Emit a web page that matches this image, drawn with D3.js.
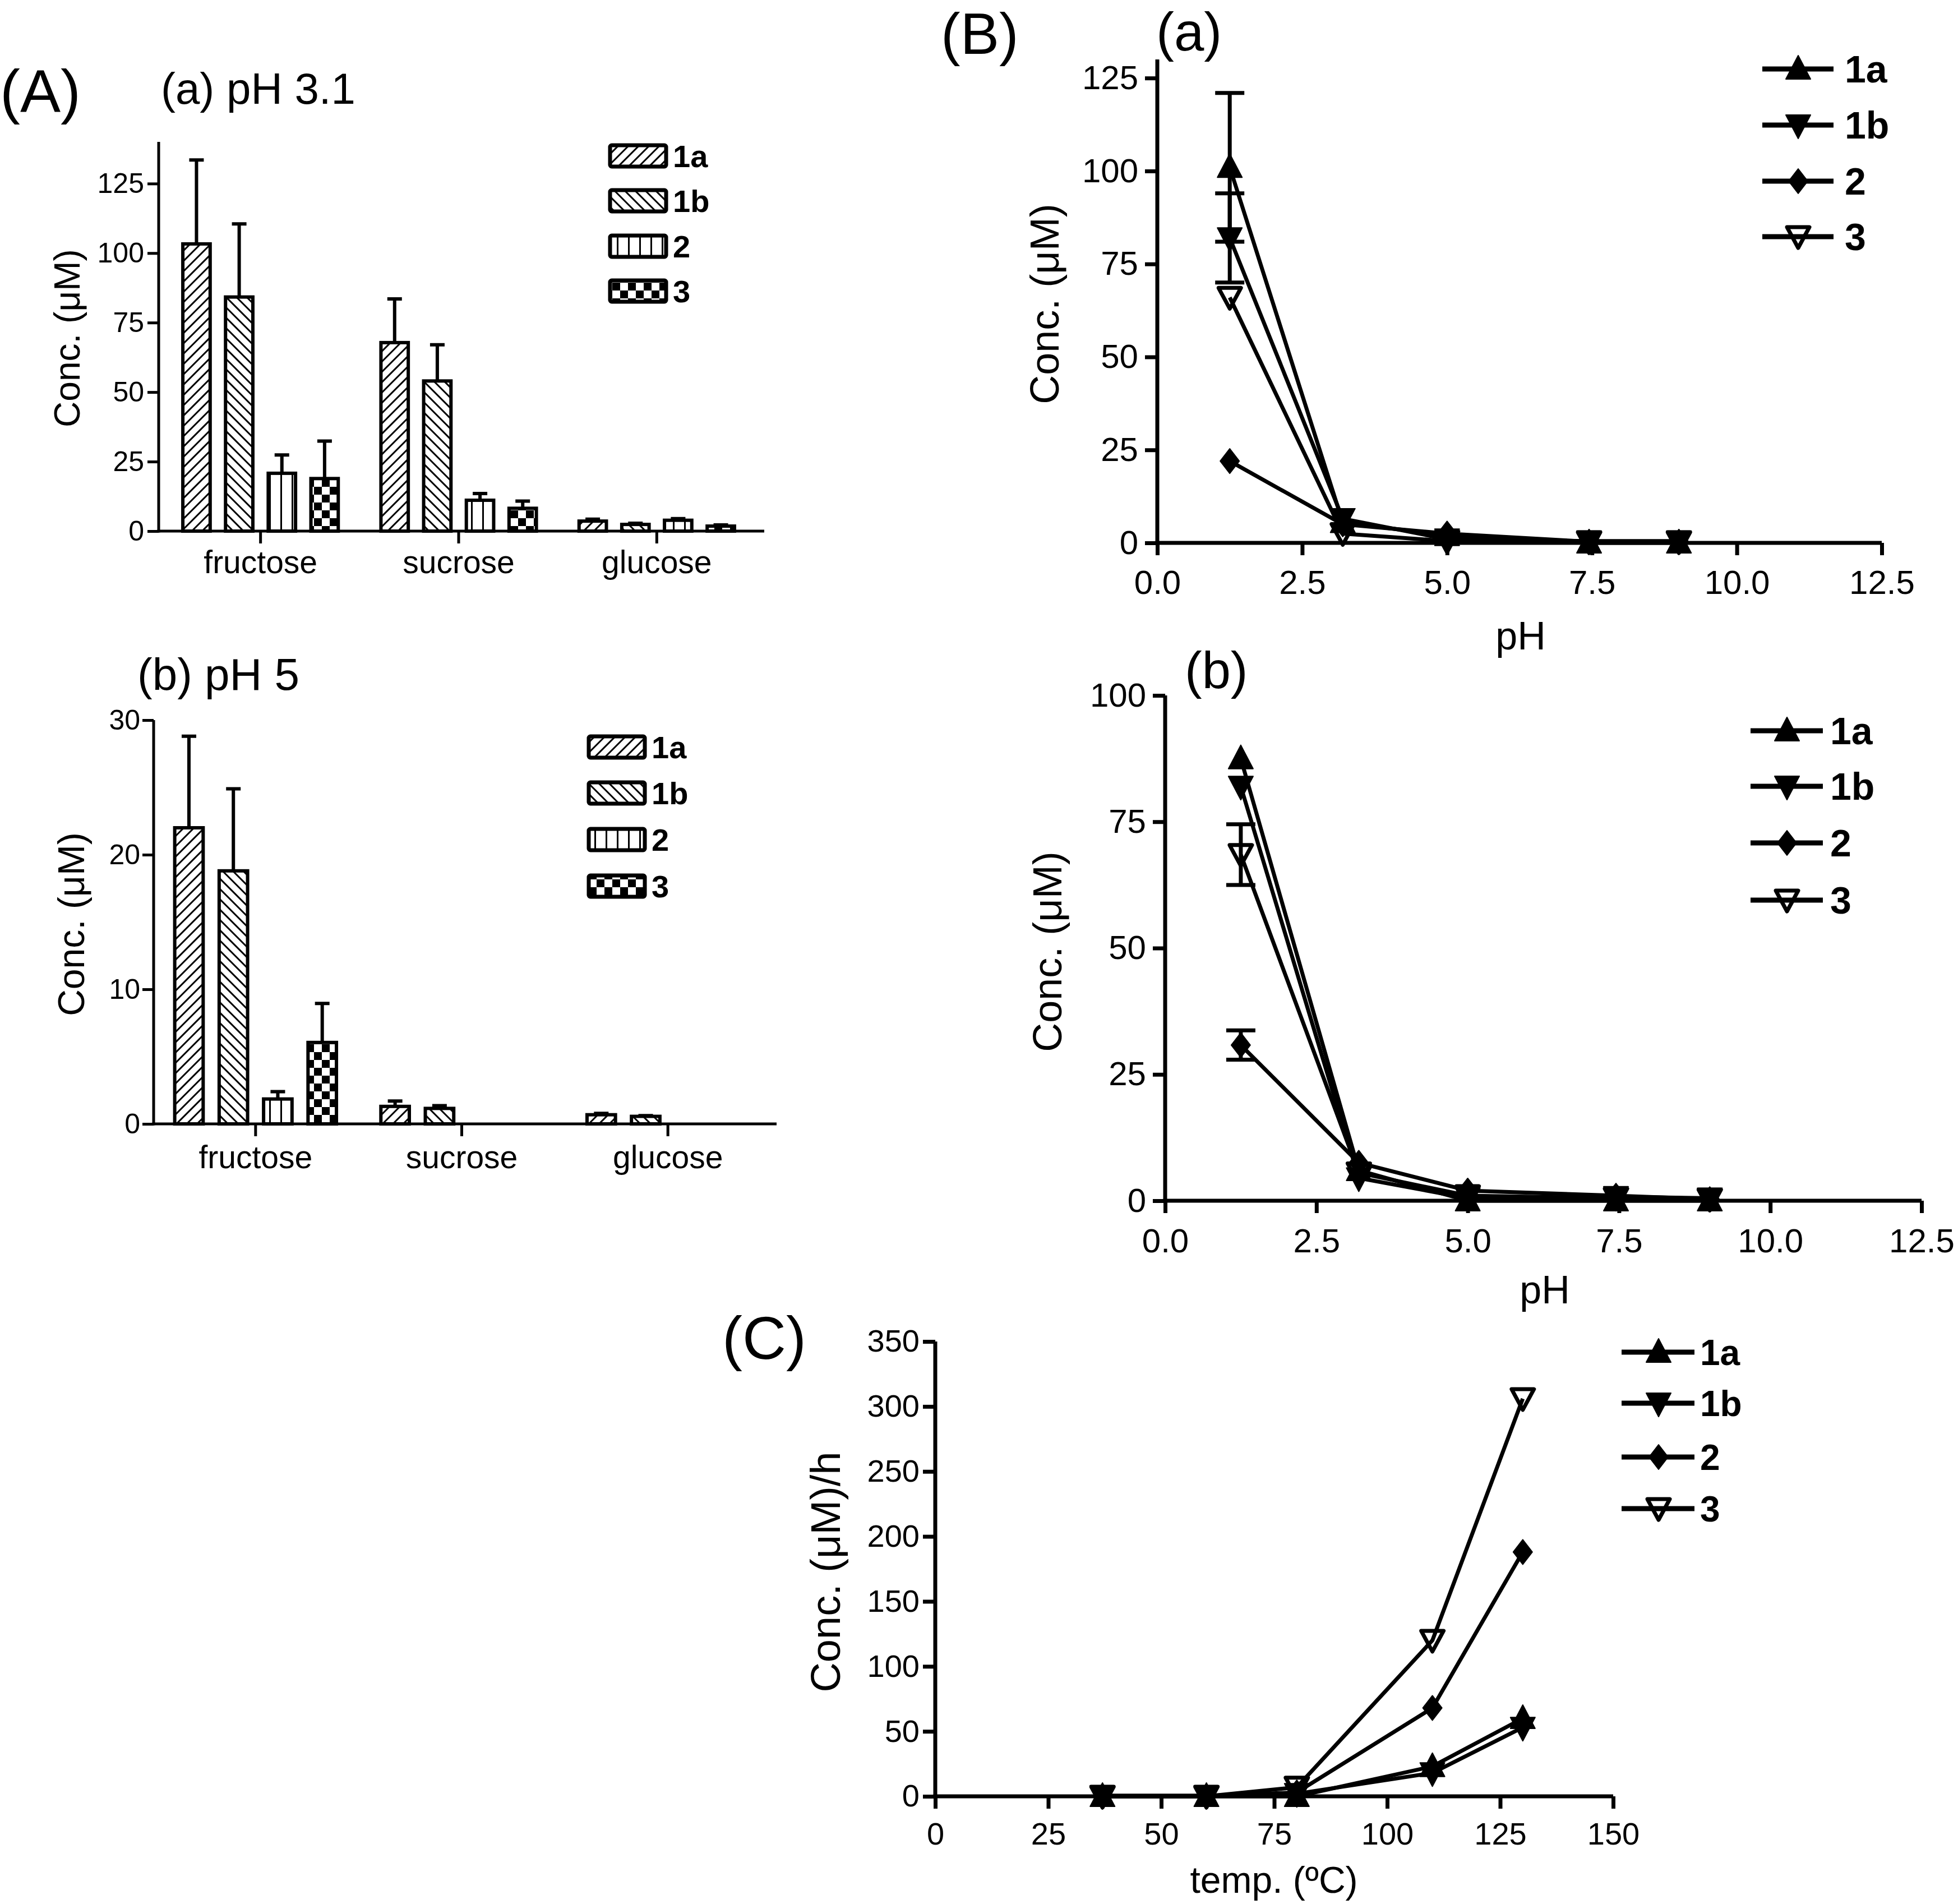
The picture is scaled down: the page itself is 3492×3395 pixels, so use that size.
<!DOCTYPE html>
<html lang="en">
<head>
<meta charset="utf-8">
<title>Figure</title>
<script src="https://cdn.jsdelivr.net/npm/d3@7"></script>
<style>
  body { margin: 0; background: #fff; }
  text { font-family: "Liberation Sans", Arial, Helvetica, sans-serif; fill: #000; }
</style>
</head>
<body>
<script>
// ---------- data ----------
var compounds = ["1a", "1b", "2", "3"];
var sugars = ["fructose", "sucrose", "glucose"];

// (A)(a) pH 3.1 : rows = sugar, columns = compound
var pH31Mean = [[103.3, 84.2, 20.8, 18.9], [67.8, 54.0, 11.1, 8.2], [3.6, 2.4, 3.9, 1.8]];
var pH31Err  = [[30.2, 26.3, 6.6, 13.5], [15.7, 13.0, 2.4, 2.6], [0.7, 0.4, 0.6, 0.4]];
// (A)(b) pH 5
var pH5Mean = [[22.0, 18.8, 1.85, 6.05], [1.3, 1.15, 0, 0], [0.68, 0.56, 0, 0]];
var pH5Err  = [[6.8, 6.1, 0.55, 2.9], [0.4, 0.2, 0, 0], [0.1, 0.05, 0, 0]];

// (B) conc. vs pH
var pHValues = [1.25, 3.2, 5.0, 7.45, 9.0];
var pHa1a = [101, 5.5, 2.0, 0.0, 0.0];
var pHa1b = [82, 6.5, 1.0, 0.5, 0.5];
var pHa2  = [22, 5.0, 2.5, 0.3, 0.3];
var pHa3  = [66, 2.5, 0.5, 0.3, 0.3];
var pHaErr1a = [20, 0, 0, 0, 0];
var pHaErr1b = [12, 0, 0, 0, 0];
var pHaErr2  = [0, 0, 0, 0, 0];
var pHaErr3  = [0, 0, 0, 0, 0];

var pHb1a = [87.5, 6.0, 0.0, 0.0, 0.0];
var pHb1b = [82, 4.5, 0.5, 0.8, 0.5];
var pHb2  = [30.8, 7.5, 2.0, 1.0, 0.3];
var pHb3  = [68.5, 5.5, 1.0, 0.5, 0.3];
var pHbErr1a = [0, 0, 0, 0, 0];
var pHbErr1b = [0, 0, 0, 0, 0];
var pHbErr2  = [2.9, 0, 0, 0, 0];
var pHbErr3  = [6.0, 0, 0, 0, 0];

// (C) rate vs temperature
var temps = [37, 60, 80, 110, 130];
var temp1a = [0, 0, 0, 23, 60];
var temp1b = [0.5, 0.5, 2, 18, 53];
var temp2  = [0, 0, 3, 68, 188];
var temp3  = [0, 0, 7, 120, 306];

// ---------- drawing ----------
var svg = d3.select("body").append("svg")
    .attr("width", 3492)
    .attr("height", 3395);

var defs = svg.append("defs");

function hatch(id, angle, gap) {
    var p = defs.append("pattern").attr("id", id)
        .attr("patternUnits", "userSpaceOnUse")
        .attr("width", gap).attr("height", gap)
        .attr("patternTransform", "rotate(" + angle + ")");
    p.append("rect").attr("width", gap).attr("height", gap).attr("fill", "#fff");
    p.append("line").attr("x1", 1.5).attr("y1", 0).attr("x2", 1.5).attr("y2", gap)
        .attr("stroke", "#000").attr("stroke-width", 3);
}
hatch("pat1a", 45, 13);
hatch("pat1b", -45, 13);
hatch("pat2", 0, 20);
var chk = defs.append("pattern").attr("id", "pat3")
    .attr("patternUnits", "userSpaceOnUse").attr("width", 28).attr("height", 28);
chk.append("rect").attr("width", 28).attr("height", 28).attr("fill", "#fff");
chk.append("rect").attr("width", 14).attr("height", 14).attr("fill", "#000");
chk.append("rect").attr("x", 14).attr("y", 14).attr("width", 14).attr("height", 14).attr("fill", "#000");
var patterns = ["url(#pat1a)", "url(#pat1b)", "url(#pat2)", "url(#pat3)"];

function label(x, y, txt, size, opts) {
    opts = opts || {};
    var t = svg.append("text").attr("x", x).attr("y", y)
        .attr("font-size", size).text(txt);
    if (opts.anchor) t.attr("text-anchor", opts.anchor);
    if (opts.bold) t.attr("font-weight", "bold");
    if (opts.dy) t.attr("dy", opts.dy);
    return t;
}

function yTitle(x, y, txt, size) {
    svg.append("text")
        .attr("transform", "translate(" + x + "," + y + ") rotate(-90)")
        .attr("text-anchor", "middle")
        .attr("font-size", size)
        .text(txt);
}

function axisLines(g, axX, y0, yTop, xEnd, w) {
    g.append("line").attr("x1", axX).attr("x2", axX).attr("y1", y0 + w / 2).attr("y2", yTop)
        .attr("stroke", "#000").attr("stroke-width", w);
    g.append("line").attr("x1", axX - w / 2).attr("x2", xEnd).attr("y1", y0).attr("y2", y0)
        .attr("stroke", "#000").attr("stroke-width", w);
}

function styleAxis(a, size, w) {
    a.attr("font-family", null).attr("font-size", size);
    a.select(".domain").remove();
    a.selectAll(".tick line").attr("stroke-width", w);
}

// ---- bar panels (A) ----
function barPanel(cfg, means, errs) {
    var x0 = d3.scaleBand().domain(sugars).range([cfg.left, cfg.right]);
    var x1 = d3.scaleBand().domain(compounds).range([0, x0.bandwidth()])
        .paddingInner(0.36).paddingOuter(0.5);
    var y = d3.scaleLinear().domain([0, cfg.yMax]).range([cfg.y0, cfg.yTop]);
    var g = svg.append("g");

    var rows = [];
    sugars.forEach(function (s, i) {
        compounds.forEach(function (c, j) {
            rows.push({ s: s, c: c, j: j, v: means[i][j], e: errs[i][j] });
        });
    });
    rows = rows.filter(function (d) { return d.v > 0; });

    var bw = x1.bandwidth();
    g.selectAll("path.err").data(rows.filter(function (d) { return d.e > 0; }))
        .enter().append("path")
        .attr("d", function (d) {
            var cx = x0(d.s) + x1(d.c) + bw / 2;
            return "M" + cx + "," + y(d.v) + "V" + y(d.v + d.e) +
                "M" + (cx - 13) + "," + y(d.v + d.e) + "H" + (cx + 13);
        })
        .attr("stroke", "#000").attr("stroke-width", 6).attr("fill", "none");

    g.selectAll("rect.bar").data(rows).enter().append("rect")
        .attr("x", function (d) { return x0(d.s) + x1(d.c); })
        .attr("y", function (d) { return y(d.v); })
        .attr("width", bw)
        .attr("height", function (d) { return y(0) - y(d.v); })
        .attr("fill", function (d) { return patterns[d.j]; })
        .attr("stroke", "#000").attr("stroke-width", 6);

    var ay = g.append("g").attr("transform", "translate(" + cfg.axX + ",0)")
        .call(d3.axisLeft(y).tickValues(cfg.ticks).tickSize(20).tickPadding(cfg.pad).tickSizeOuter(0));
    styleAxis(ay, 50, 5);

    var ax = g.append("g").attr("transform", "translate(0," + cfg.y0 + ")")
        .call(d3.axisBottom(x0).tickSize(22).tickSizeOuter(0));
    styleAxis(ax, 57, 5);
    ax.selectAll("text").attr("dy", null).attr("y", cfg.catBase);

    axisLines(g, cfg.axX, cfg.y0, cfg.yTop, cfg.xEnd, 5);

    // legend
    compounds.forEach(function (c, j) {
        var cy = cfg.legRows[j];
        g.append("rect").attr("x", cfg.legX).attr("y", cy - 19).attr("width", 100).attr("height", 38)
            .attr("rx", 3).attr("fill", patterns[j]).attr("stroke", "#000").attr("stroke-width", 7);
        label(cfg.legX + 112, cy, c, 56, { bold: true, dy: "0.36em" });
    });
}

barPanel({
    left: 288, right: 1348, axX: 283, xEnd: 1363, y0: 947, yTop: 253, yMax: 140,
    ticks: [0, 25, 50, 75, 100, 125], pad: 6, catBase: 75,
    legX: 1088, legRows: [278, 358, 439, 519]
}, pH31Mean, pH31Err);

barPanel({
    left: 272, right: 1375, axX: 274, xEnd: 1385, y0: 2004, yTop: 1284, yMax: 30,
    ticks: [0, 10, 20, 30], pad: 4, catBase: 79,
    legX: 1050, legRows: [1332, 1414, 1497, 1580]
}, pH5Mean, pH5Err);

// ---- line panels (B, C) ----
var markerPaths = [
    "M0,-24L22,18L-22,18Z",
    "M0,24L22,-18L-22,-18Z",
    "M0,-22L17,0L0,22L-17,0Z",
    "M0,20L20,-17L-20,-17Z"
];

function drawMarker(g, j, x, y) {
    var p = g.append("path").attr("d", markerPaths[j])
        .attr("transform", "translate(" + x + "," + y + ")")
        .attr("stroke", "#000").attr("stroke-linejoin", "round");
    if (j === 3) p.attr("fill", "none").attr("stroke-width", 7);
    else p.attr("fill", "#000").attr("stroke-width", 2);
}

function linePanel(cfg, xs, series, errs) {
    var x = d3.scaleLinear().domain([0, cfg.xMax]).range([cfg.axX, cfg.xRight]);
    var y = d3.scaleLinear().domain([0, cfg.yMax]).range([cfg.y0, cfg.yTop]);
    var g = svg.append("g");

    var line = d3.line()
        .x(function (d) { return x(d[0]); })
        .y(function (d) { return y(d[1]); });

    series.forEach(function (vals) {
        g.append("path").datum(d3.zip(xs, vals)).attr("d", line)
            .attr("fill", "none").attr("stroke", "#000").attr("stroke-width", 7)
            .attr("stroke-linejoin", "round");
    });

    if (errs) {
        errs.forEach(function (es, j) {
            es.forEach(function (e, i) {
                if (e <= 0) return;
                var cx = x(xs[i]), v = series[j][i];
                g.append("path")
                    .attr("d", "M" + cx + "," + y(v - e) + "V" + y(v + e) +
                        "M" + (cx - 26) + "," + y(v + e) + "H" + (cx + 26) +
                        "M" + (cx - 26) + "," + y(v - e) + "H" + (cx + 26))
                    .attr("stroke", "#000").attr("stroke-width", 7).attr("fill", "none");
            });
        });
    }

    series.forEach(function (vals, j) {
        vals.forEach(function (v, i) { drawMarker(g, j, x(xs[i]), y(v)); });
    });

    var ay = g.append("g").attr("transform", "translate(" + cfg.axX + ",0)")
        .call(d3.axisLeft(y).tickValues(cfg.yTicks).tickSize(22).tickPadding(cfg.pad).tickSizeOuter(0));
    styleAxis(ay, cfg.font, 7);

    var ax = g.append("g").attr("transform", "translate(0," + cfg.y0 + ")")
        .call(d3.axisBottom(x).tickValues(cfg.xTicks).tickSize(22).tickSizeOuter(0)
            .tickFormat(cfg.xFormat));
    styleAxis(ax, cfg.font, 7);
    ax.selectAll("text").attr("dy", null).attr("y", cfg.xBase);

    axisLines(g, cfg.axX, cfg.y0, y(cfg.yMax), x(cfg.xMax), 7);

    // legend
    compounds.forEach(function (c, j) {
        var cy = cfg.legRows[j];
        g.append("line").attr("x1", cfg.legX1).attr("x2", cfg.legX2).attr("y1", cy).attr("y2", cy)
            .attr("stroke", "#000").attr("stroke-width", 9);
        drawMarker(g, j, cfg.legM, cy);
        label(cfg.legT, cy, c, cfg.legFont, { bold: true, dy: "0.36em" });
    });
}

var fmt1 = d3.format(".1f");

linePanel({
    axX: 2064, xRight: 3356, xMax: 12.5, y0: 968, yTop: 106, yMax: 130,
    yTicks: [0, 25, 50, 75, 100, 125], xTicks: [0, 2.5, 5, 7.5, 10, 12.5],
    xFormat: fmt1, font: 60, pad: 12, xBase: 91,
    legRows: [123, 223, 323, 422], legX1: 3143, legX2: 3270, legM: 3207, legT: 3290, legFont: 68
}, pHValues, [pHa1a, pHa1b, pHa2, pHa3], [pHaErr1a, pHaErr1b, pHaErr2, pHaErr3]);

linePanel({
    axX: 2078, xRight: 3427, xMax: 12.5, y0: 2141, yTop: 1240, yMax: 100,
    yTicks: [0, 25, 50, 75, 100], xTicks: [0, 2.5, 5, 7.5, 10, 12.5],
    xFormat: fmt1, font: 60, pad: 12, xBase: 92,
    legRows: [1303, 1402, 1503, 1605], legX1: 3122, legX2: 3251, legM: 3187, legT: 3264, legFont: 68
}, pHValues, [pHb1a, pHb1b, pHb2, pHb3], [pHbErr1a, pHbErr1b, pHbErr2, pHbErr3]);

linePanel({
    axX: 1668, xRight: 2877, xMax: 150, y0: 3203, yTop: 2392, yMax: 350,
    yTicks: [0, 50, 100, 150, 200, 250, 300, 350], xTicks: [0, 25, 50, 75, 100, 125, 150],
    xFormat: d3.format("d"), font: 56, pad: 6, xBase: 86,
    legRows: [2411, 2502, 2598, 2690], legX1: 2892, legX2: 3022, legM: 2958, legT: 3032, legFont: 64
}, temps, [temp1a, temp1b, temp2, temp3], null);

// ---- titles and axis labels ----
label(0, 200, "(A)", 108);
label(287, 185, "(a) pH 3.1", 78);
label(245, 1230, "(b) pH 5", 80);
label(1678, 96, "(B)", 104);
label(2062, 90, "(a)", 96);
label(2113, 1227, "(b)", 92);
label(1288, 2423, "(C)", 108);

yTitle(142, 603, "Conc. (μM)", 64);
yTitle(150, 1648, "Conc. (μM)", 66);
yTitle(1888, 542, "Conc. (μM)", 72);
yTitle(1893, 1697, "Conc. (μM)", 72);
yTitle(1498, 2803, "Conc. (μM)/h", 74);

label(2712, 1158, "pH", 70, { anchor: "middle" });
label(2755, 2324, "pH", 70, { anchor: "middle" });
label(2272, 3375, "temp. (ºC)", 66, { anchor: "middle" });
</script>
</body>
</html>
